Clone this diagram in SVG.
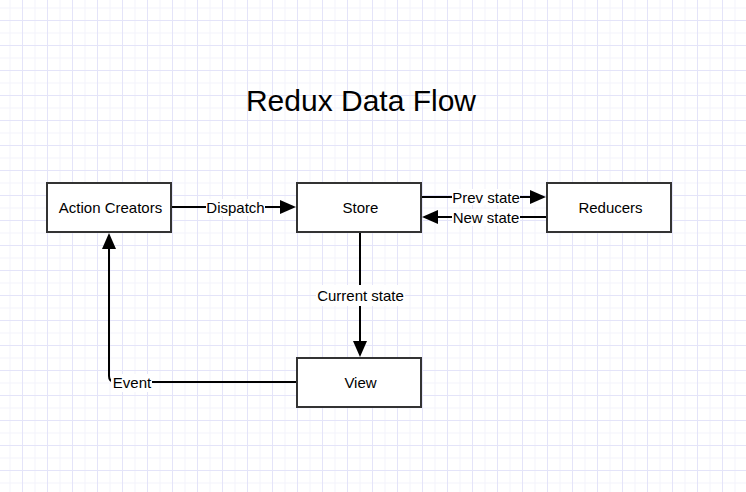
<svg xmlns="http://www.w3.org/2000/svg" width="746" height="492" viewBox="0 0 746 492">
  <defs>
    <pattern id="grid" x="22" y="20" width="25" height="25" patternUnits="userSpaceOnUse">
      <rect x="0" y="0" width="25" height="25" fill="#ffffff"/>
      <rect x="12.5" y="0" width="1" height="25" fill="#f3f3fc"/>
      <rect x="0" y="12.5" width="25" height="1" fill="#f3f3fc"/>
      <rect x="0" y="0" width="1" height="25" fill="#e4e4f9"/>
      <rect x="0" y="0" width="25" height="1" fill="#e4e4f9"/>
    </pattern>
    <marker id="arrow" viewBox="0 0 16 14" refX="8" refY="7" markerWidth="16" markerHeight="14" markerUnits="userSpaceOnUse" orient="auto">
      <path d="M0,0 L16,7 L0,14 Z" fill="#000000"/>
    </marker>
    <style>
      .box { fill: #ffffff; stroke: #333333; stroke-width: 2; }
      .lbl { font-family: "Liberation Sans", Arial, sans-serif; font-size: 15px; fill: #000000; text-anchor: middle; }
      .title { font-family: "Liberation Sans", Arial, sans-serif; font-size: 30px; fill: #000000; text-anchor: middle; }
      .edge { fill: none; stroke: #000000; stroke-width: 2; }
      .bg { fill: #ffffff; }
    </style>
  </defs>
  <rect x="0" y="0" width="746" height="492" fill="url(#grid)"/>

  <g id="title">
    <text class="title" x="361" y="110.5">Redux Data Flow</text>
  </g>

  <g id="connectors">
    <path class="edge" d="M172,207 L288,207" marker-end="url(#arrow)"/>
    <rect class="bg" x="206" y="199" width="59" height="17"/>
    <text class="lbl" x="235.5" y="212.5">Dispatch</text>

    <path class="edge" d="M422,197 L538,197" marker-end="url(#arrow)"/>
    <rect class="bg" x="452" y="189" width="68" height="16"/>
    <text class="lbl" x="486" y="202.5">Prev state</text>

    <path class="edge" d="M546,217 L430,217" marker-end="url(#arrow)"/>
    <rect class="bg" x="452" y="209" width="68" height="17"/>
    <text class="lbl" x="486" y="222.5">New state</text>

    <path class="edge" d="M360,232 L360,349" marker-end="url(#arrow)"/>
    <rect class="bg" x="316" y="285" width="89" height="21"/>
    <text class="lbl" x="360.5" y="300.5">Current state</text>

    <path class="edge" d="M297,382 L115,382 Q109,382 109,376 L109,241" marker-end="url(#arrow)"/>
    <rect class="bg" x="111" y="374" width="41" height="18"/>
    <text class="lbl" x="132" y="388">Event</text>
  </g>

  <g id="action-creators">
    <rect class="box" x="47" y="183" width="124" height="49"/>
    <text class="lbl" x="110.5" y="212.5">Action Creators</text>
  </g>
  <g id="store">
    <rect class="box" x="297" y="183" width="124" height="49"/>
    <text class="lbl" x="360.5" y="212.5">Store</text>
  </g>
  <g id="reducers">
    <rect class="box" x="547" y="183" width="124" height="49"/>
    <text class="lbl" x="610.5" y="212.5">Reducers</text>
  </g>
  <g id="view">
    <rect class="box" x="297" y="358" width="124" height="49"/>
    <text class="lbl" x="360.5" y="387.5">View</text>
  </g>
</svg>
